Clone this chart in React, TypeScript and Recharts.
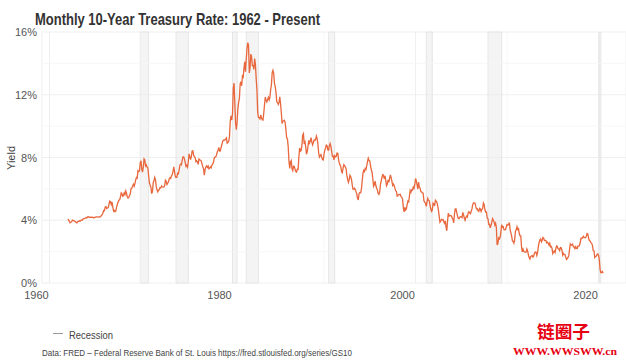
import { LineChart, Line, XAxis, YAxis, CartesianGrid, ReferenceArea, ReferenceLine } from 'recharts';

// monthly 10-year treasury constant maturity yield (%), starting Jan 1962
const FIRST_YEAR = 1962;
const rates1960s = [
  4.08, 4.04, 3.93, 3.84, 3.87, 3.91, 4.01, 3.98, 3.98, 3.93, 3.92, 3.86,
  3.83, 3.92, 3.93, 3.97, 3.93, 3.99, 4.02, 4.0, 4.08, 4.11, 4.12, 4.13,
  4.17, 4.15, 4.22, 4.23, 4.2, 4.17, 4.19, 4.19, 4.2, 4.19, 4.15, 4.18,
  4.19, 4.21, 4.21, 4.2, 4.21, 4.21, 4.2, 4.25, 4.29, 4.35, 4.45, 4.62,
  4.61, 4.83, 4.87, 4.75, 4.78, 4.81, 5.02, 5.22, 5.18, 5.01, 5.16, 4.84,
  4.58, 4.63, 4.54, 4.59, 4.85, 5.02, 5.16, 5.28, 5.3, 5.48, 5.75, 5.7,
  5.53, 5.56, 5.74, 5.64, 5.87, 5.72, 5.5, 5.42, 5.46, 5.58, 5.7, 6.03,
  6.04, 6.19, 6.3, 6.17, 6.32, 6.57, 6.72, 6.69, 7.16, 7.1, 7.14, 7.65,
];
const rates1970s = [
  7.79, 7.24, 7.07, 7.39, 7.91, 7.84, 7.46, 7.53, 7.39, 7.33, 6.84, 6.39,
  6.24, 6.11, 5.7, 5.83, 6.39, 6.52, 6.73, 6.58, 6.14, 5.93, 5.81, 5.93,
  5.95, 6.08, 6.07, 6.19, 6.13, 6.11, 6.11, 6.21, 6.55, 6.48, 6.28, 6.36,
  6.46, 6.64, 6.71, 6.67, 6.85, 6.9, 7.13, 7.4, 7.09, 6.79, 6.73, 6.74,
  6.99, 6.96, 7.21, 7.51, 7.58, 7.54, 7.81, 8.04, 8.04, 7.9, 7.68, 7.43,
  7.5, 7.39, 7.73, 8.23, 8.06, 7.86, 8.06, 8.4, 8.43, 8.14, 8.05, 8.0,
  7.74, 7.79, 7.73, 7.56, 7.9, 7.86, 7.83, 7.77, 7.59, 7.41, 7.29, 6.87,
  7.21, 7.39, 7.46, 7.37, 7.46, 7.28, 7.33, 7.4, 7.34, 7.52, 7.58, 7.69,
  7.96, 8.03, 8.04, 8.15, 8.35, 8.46, 8.64, 8.41, 8.42, 8.64, 8.81, 9.01,
  9.1, 9.1, 9.12, 9.18, 9.25, 8.91, 8.95, 9.03, 9.33, 10.3, 10.65, 10.39,
];
const rates1980s = [
  10.8, 12.41, 12.75, 11.47, 10.18, 9.78, 10.25, 11.1, 11.51, 11.75, 12.68, 12.84,
  12.57, 13.19, 13.12, 13.68, 14.1, 13.47, 14.28, 14.94, 15.32, 15.15, 13.39, 13.72,
  14.59, 14.43, 13.86, 13.87, 13.62, 14.3, 13.95, 13.06, 12.34, 10.91, 10.55, 10.54,
  10.46, 10.72, 10.51, 10.4, 10.38, 10.85, 11.38, 11.85, 11.65, 11.54, 11.69, 11.83,
  11.67, 11.84, 12.32, 12.63, 13.41, 13.56, 13.36, 12.72, 12.52, 12.16, 11.57, 11.5,
  11.38, 11.51, 11.86, 11.43, 10.85, 10.16, 10.31, 10.33, 10.37, 10.24, 9.78, 9.26,
  9.19, 8.7, 7.78, 7.3, 7.71, 7.8, 7.3, 7.17, 7.45, 7.43, 7.25, 7.11,
  7.08, 7.25, 7.25, 8.02, 8.61, 8.4, 8.45, 8.76, 9.42, 9.52, 8.86, 8.99,
  8.67, 8.21, 8.37, 8.72, 9.09, 8.92, 9.06, 9.26, 8.98, 8.8, 8.96, 9.11,
  9.09, 9.17, 9.36, 9.18, 8.86, 8.28, 8.02, 8.11, 8.19, 8.01, 7.87, 7.84,
];
const rates1990s = [
  8.21, 8.47, 8.59, 8.79, 8.76, 8.48, 8.47, 8.75, 8.89, 8.72, 8.39, 8.08,
  8.09, 7.85, 8.11, 8.04, 8.07, 8.28, 8.27, 7.9, 7.65, 7.53, 7.42, 7.09,
  7.03, 7.34, 7.54, 7.48, 7.39, 7.26, 6.84, 6.59, 6.42, 6.59, 6.87, 6.77,
  6.6, 6.26, 5.98, 5.97, 6.04, 5.96, 5.81, 5.68, 5.36, 5.33, 5.72, 5.77,
  5.75, 5.97, 6.48, 6.97, 7.18, 7.1, 7.3, 7.24, 7.46, 7.74, 7.96, 7.81,
  7.78, 7.47, 7.2, 7.06, 6.63, 6.17, 6.28, 6.49, 6.2, 6.04, 5.93, 5.71,
  5.65, 5.81, 6.27, 6.51, 6.74, 6.91, 6.87, 6.64, 6.83, 6.53, 6.2, 6.3,
  6.58, 6.42, 6.69, 6.89, 6.71, 6.49, 6.22, 6.3, 6.21, 6.03, 5.88, 5.81,
  5.54, 5.57, 5.65, 5.64, 5.65, 5.5, 5.46, 5.34, 4.81, 4.53, 4.83, 4.65,
  4.72, 5.0, 5.23, 5.18, 5.54, 5.9, 5.79, 5.94, 5.92, 6.11, 6.03, 6.28,
];
const rates2000s = [
  6.66, 6.52, 6.26, 5.99, 6.44, 6.1, 6.05, 5.83, 5.8, 5.74, 5.72, 5.24,
  5.16, 5.1, 4.89, 5.14, 5.39, 5.28, 5.24, 4.97, 4.73, 4.57, 4.65, 5.09,
  5.04, 4.91, 5.28, 5.21, 5.16, 4.93, 4.65, 4.26, 3.87, 3.94, 4.05, 4.03,
  4.05, 3.9, 3.81, 3.96, 3.57, 3.33, 3.98, 4.45, 4.27, 4.29, 4.3, 4.27,
  4.15, 4.08, 3.83, 4.35, 4.72, 4.73, 4.5, 4.28, 4.13, 4.1, 4.19, 4.23,
  4.22, 4.17, 4.5, 4.34, 4.14, 4.0, 4.18, 4.26, 4.2, 4.46, 4.54, 4.47,
  4.42, 4.57, 4.72, 4.99, 5.11, 5.11, 5.09, 4.88, 4.72, 4.73, 4.6, 4.56,
  4.76, 4.72, 4.56, 4.69, 4.75, 5.1, 5.0, 4.67, 4.52, 4.53, 4.15, 4.1,
  3.74, 3.74, 3.51, 3.68, 3.88, 4.1, 4.01, 3.89, 3.69, 3.81, 3.53, 2.42,
  2.52, 2.87, 2.82, 2.93, 3.29, 3.72, 3.56, 3.59, 3.4, 3.39, 3.4, 3.59,
];
const rates2010s = [
  3.73, 3.69, 3.73, 3.85, 3.42, 3.2, 3.01, 2.7, 2.65, 2.54, 2.76, 3.29,
  3.39, 3.58, 3.41, 3.46, 3.17, 3.0, 3.0, 2.3, 1.98, 2.15, 2.01, 1.98,
  1.97, 1.97, 2.17, 2.05, 1.8, 1.62, 1.53, 1.68, 1.72, 1.75, 1.65, 1.72,
  1.91, 1.98, 1.96, 1.76, 1.93, 2.3, 2.58, 2.74, 2.81, 2.62, 2.72, 2.9,
  2.86, 2.71, 2.72, 2.71, 2.56, 2.6, 2.54, 2.42, 2.53, 2.3, 2.33, 2.21,
  1.88, 1.98, 2.04, 1.94, 2.2, 2.36, 2.32, 2.17, 2.17, 2.07, 2.26, 2.24,
  2.09, 1.78, 1.89, 1.81, 1.81, 1.64, 1.5, 1.56, 1.63, 1.76, 2.14, 2.49,
  2.43, 2.42, 2.48, 2.3, 2.3, 2.19, 2.32, 2.21, 2.2, 2.36, 2.35, 2.4,
  2.58, 2.86, 2.84, 2.87, 2.98, 2.91, 2.89, 2.89, 3.0, 3.15, 3.12, 2.83,
  2.71, 2.68, 2.57, 2.53, 2.4, 2.07, 2.06, 1.63, 1.7, 1.71, 1.81, 1.86,
];
const rates2020s = [1.76, 1.5, 0.87, 0.66, 0.67, 0.73, 0.62];

// NBER recessions (decimal years)
const recessionStart = [1969.92, 1973.83, 1980.0, 1981.5, 1990.5, 2001.17, 2007.92, 2020.08];
const recessionEnd = [1970.83, 1975.17, 1980.5, 1982.83, 1991.17, 2001.83, 2009.42, 2020.25];

const yTicks = [0, 4, 8, 12, 16];
const yMinor = [2, 6, 10, 14];
const xTicks = [1960, 1980, 2000, 2020];
const xMinor = [1970, 1990, 2010];

const rates = [...rates1960s, ...rates1970s, ...rates1980s, ...rates1990s, ...rates2000s, ...rates2010s, ...rates2020s];
const data = rates.map((v, i) => ({ date: FIRST_YEAR + i / 12, rate: v }));

const FONT = '"Liberation Sans", Arial, sans-serif';

function XTick(props: any) {
  const { x, payload } = props;
  return (
    <text x={x - 13} y={299} textAnchor="middle" fill="#555" fontSize={11} fontFamily={FONT}>
      {payload.value}
    </text>
  );
}

function YTick(props: any) {
  const { y, payload } = props;
  return (
    <text x={37} y={y + 4} textAnchor="end" fill="#555" fontSize={11} fontFamily={FONT}>
      {payload.value}%
    </text>
  );
}

export default function App() {
  return (
    <div style={{ position: 'absolute', left: 0, top: 0, width: 626, height: 360, background: '#fff', fontFamily: FONT }}>
      <LineChart width={626} height={360} data={data} margin={{ top: 32, right: 0, bottom: 57, left: 0 }}>
        <CartesianGrid stroke="#ebebeb" strokeWidth={0.8} />
        {yMinor.map((v) => (
          <ReferenceLine key={`ym${v}`} y={v} stroke="#f5f5f5" strokeWidth={0.8} />
        ))}
        {xMinor.map((v) => (
          <ReferenceLine key={`xm${v}`} x={v} stroke="#f5f5f5" strokeWidth={0.8} />
        ))}
        {recessionStart.map((s, i) => (
          <ReferenceArea
            key={`r${i}`}
            x1={s}
            x2={recessionEnd[i]}
            fill="#ececec"
            fillOpacity={0.6}
            stroke="#e6e6e6"
            strokeWidth={1}
          />
        ))}
        <XAxis
          type="number"
          dataKey="date"
          domain={[1959.18, 2023.0]}
          ticks={xTicks}
          allowDataOverflow
          axisLine={false}
          tickLine={false}
          height={20}
          tick={<XTick />}
        />
        <YAxis
          type="number"
          domain={[0, 16]}
          ticks={yTicks}
          allowDataOverflow
          axisLine={false}
          tickLine={false}
          width={42}
          tick={<YTick />}
        />
        <Line
          type="linear"
          dataKey="rate"
          stroke="#e8673c"
          strokeWidth={1.3}
          dot={false}
          isAnimationActive={false}
        />
      </LineChart>
      <svg width={626} height={360} style={{ position: 'absolute', left: 0, top: 0, pointerEvents: 'none' }}>
        <text x={35} y={25} fontSize={16.5} fontWeight="bold" fill="#333" fontFamily={FONT} textLength={285} lengthAdjust="spacingAndGlyphs">
          Monthly 10-Year Treasury Rate: 1962 - Present
        </text>
        <text x={0} y={0} transform="translate(15,158) rotate(-90)" textAnchor="middle" fontSize={11} fill="#444" fontFamily={FONT}>
          Yield
        </text>
        <line x1={53} x2={63} y1={333.5} y2={333.5} stroke="#999" strokeWidth={1} />
        <text x={69} y={338.5} fontSize={11} fill="#444" fontFamily={FONT} textLength={44} lengthAdjust="spacingAndGlyphs">
          Recession
        </text>
        <text x={42} y={356} fontSize={9} fill="#444" fontFamily={FONT} textLength={310} lengthAdjust="spacingAndGlyphs">
          Data: FRED – Federal Reserve Bank of St. Louis  https://fred.stlouisfed.org/series/GS10
        </text>
        <text x={537} y={338} fontSize={17.5} fontWeight="bold" fill="#e60012" fontFamily='"Noto Sans CJK SC", sans-serif' textLength={53} lengthAdjust="spacingAndGlyphs">
          链圈子
        </text>
        <text x={513} y={355} fontSize={11} fontWeight="bold" fill="#e60012" fontFamily='"Liberation Serif", "DejaVu Serif", serif' textLength={104} lengthAdjust="spacingAndGlyphs">
          WWW.WWSWW.cn
        </text>
      </svg>
    </div>
  );
}
